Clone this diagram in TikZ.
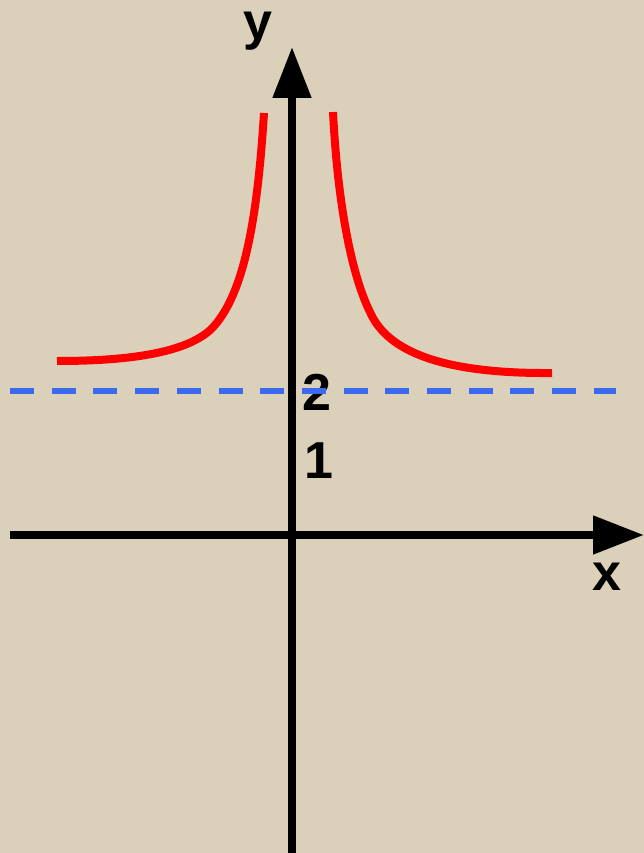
\documentclass[tikz,border=0pt]{standalone}
\usepackage{fontspec}
\setmainfont{Liberation Sans}
\usetikzlibrary{arrows.meta}
\definecolor{bg}{RGB}{219,208,186}
\definecolor{asym}{RGB}{59,105,240}
\tikzset{
  axisline/.style={line width=8pt, black, -{Triangle[length=51pt,width=37pt]}},
  curveline/.style={line width=8pt, red, line cap=butt, line join=round},
  asymline/.style={line width=6pt, asym, dash pattern=on 24pt off 17.7pt},
  lbl/.style={font=\fontsize{52}{52}\selectfont\bfseries, inner sep=0pt, anchor=base}
}
\begin{document}
\begin{tikzpicture}[x=1pt,y=-1pt]
\useasboundingbox (0,0) rectangle (644,853);
\fill[bg] (0,0) rectangle (644,853);
% asymptote
\coordinate (dl) at (10,391);
\coordinate (dr) at (616,391);
% axes
\coordinate (ybot) at (292,853);
\coordinate (ytop) at (292,47);
\coordinate (xl) at (10,535);
\coordinate (xr) at (644,535);
\draw[axisline] (ybot) -- (ytop);
\draw[axisline] (xl) -- (xr);
% labels
\node[lbl] (ylab) at (258,40) {y};
\node[lbl] (xlab) at (607,590) {x};
\node[lbl] (two) at (317,410) {2};
\node[lbl] (one) at (319,478) {1};
\draw[asymline] (dl) -- (dr);
% curve branches
\coordinate (la) at (264,113);
\coordinate (lm) at (215,325);
\coordinate (lb) at (57,361);
\coordinate (ra) at (333,112);
\coordinate (rm) at (370,312);
\coordinate (rb) at (552,373);
\draw[curveline] (la) .. controls (257,225) and (243,292) .. (lm)
  .. controls (190,355) and (120,361) .. (lb);
\draw[curveline] (ra) .. controls (338,210) and (353,278) .. (rm)
  .. controls (385,346) and (430,374) .. (rb);
\end{tikzpicture}
\end{document}
